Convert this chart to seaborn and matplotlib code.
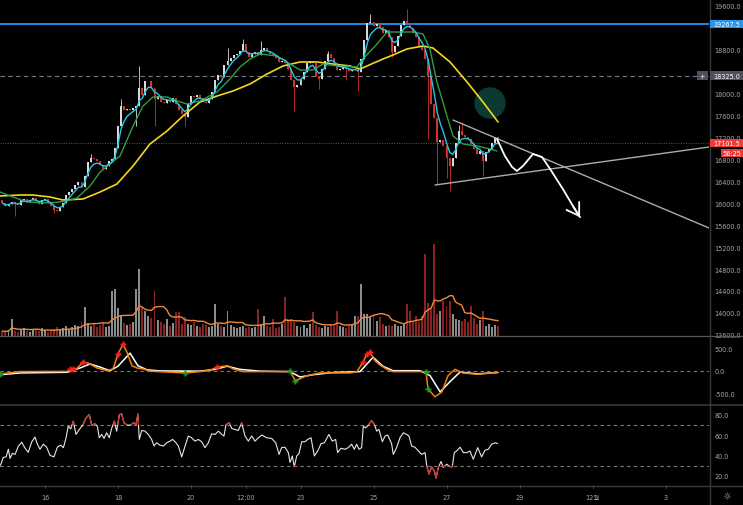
import numpy as np
import pandas as pd
import matplotlib
matplotlib.use("Agg")
import matplotlib.pyplot as plt
import seaborn as sns
from matplotlib.patches import Rectangle, Ellipse
from matplotlib.lines import Line2D
from matplotlib.collections import LineCollection

sns.set_theme(style="dark", rc={"axes.facecolor": "black", "figure.facecolor": "black"})
plt.rcParams["font.family"] = ["DejaVu Sans", "Noto Sans CJK KR"]

# ---------------- data (time in hours since Nov 14 00:00) ----------------
candle_start_hour = 20
candle_step = 2
first_open = 16050
close = [16000, 15950, 15980, 16030, 16000, 15960, 16050, 16080, 16020, 16060,
         16100, 16040, 15990, 16060, 16080, 16010, 15950, 15880, 15860, 15930,
         16010, 16150, 16200, 16260, 16330, 16380, 16300, 16500, 16750, 16830,
         16800, 16760, 16700, 16620, 16680, 16760, 16800, 17000, 17400, 17780,
         17700, 17720, 17700, 17740, 17780, 18100, 17980, 18220, 18230, 18100,
         17900, 17960, 17850, 17820, 17880, 17850, 17920, 17800, 17700, 17620,
         17580, 17800, 17950, 17930, 17980, 17920, 17850, 17830, 17900, 18030,
         18250, 18330, 18300, 18520, 18600, 18650, 18700, 18720, 18780, 18900,
         18750, 18660, 18720, 18760, 18700, 18800, 18820, 18780, 18720, 18700,
         18640, 18580, 18600, 18560, 18440, 18250, 18120, 18160, 18260, 18400,
         18560, 18600, 18560, 18320, 18260, 18440, 18600, 18720, 18650, 18560,
         18420, 18440, 18480, 18440, 18410, 18420, 18430, 18400, 18620, 18980,
         19280, 19300, 19230, 19270, 19220, 19110, 19150, 19030, 18760, 18860,
         19050, 19250, 19330, 19280, 19200, 19100, 19030, 18850, 18800, 18630,
         18300, 17800, 17560, 17120, 17150, 17050, 16820, 16680, 16820, 17100,
         17320, 17250, 17200, 17170, 17080, 16980, 16900, 16950, 16760, 16930,
         16990, 17100, 17200, 17101.5]
spike_high_idx = [29, 39, 45, 74, 79, 85, 107, 121, 133, 150, 151]
spike_high_val = [16900, 17900, 18500, 18830, 19000, 18950, 18780, 19450, 19540, 17420, 17480]
spike_low_idx = [4, 17, 44, 50, 60, 96, 104, 113, 117, 128, 140, 143, 146, 147, 158]
spike_low_val = [15760, 15820, 17400, 17400, 17400, 17680, 18080, 18250, 18050, 18660,
                 17170, 16350, 16450, 16230, 16500]
volume = [5, 4, 6, 17, 5, 4, 6, 8, 5, 4, 7, 6, 5, 8, 6, 4, 5, 7, 9, 6,
          8, 10, 7, 9, 11, 10, 14, 29, 13, 10,
          12, 9, 11, 13, 9, 10, 45, 47, 28, 20,
          13, 11, 12, 14, 47, 67, 29, 25, 20, 18,
          45, 16, 14, 12, 17, 10, 13, 24, 24, 12,
          19, 12, 11, 14, 10, 9, 12, 11, 9, 10,
          32, 12, 10, 9, 25, 11, 9, 8, 9, 10,
          8, 9, 8, 9, 27, 12, 20, 10, 9, 17,
          8, 9, 12, 39, 17, 17, 14, 10, 9, 11,
          8, 12, 24, 11, 9, 8, 10, 9, 11, 10,
          25, 10, 9, 8, 10, 12, 20, 20, 52, 22,
          22, 19, 22, 15, 19, 12, 10, 11, 10, 12,
          10, 10, 12, 32, 25, 15, 20, 14, 20, 82,
          33, 28, 92, 22, 25, 35, 30, 35, 22, 17,
          16, 15, 17, 14, 30, 18, 12, 16, 25, 10,
          12, 9, 11, 10]

yellow_hour = [18.4, 31.6, 40.1, 51.3, 59.8, 73, 84.2, 95.3, 105.9, 117, 128.2, 138.7, 149.9,
               161.1, 171.6, 182.8, 194, 204.5, 215.7, 226.8, 237.4, 248.5, 255.1, 259.7,
               270.2, 276.8, 286, 296.5, 303.1, 314.3, 325.5, 336, 345.9]
yellow_val = [16131, 16149, 16149, 16113, 16058, 16076, 16204, 16350, 16678, 17079, 17316,
              17589, 17844, 17954, 18045, 18173, 18355, 18501, 18574, 18574, 18537, 18501,
              18446, 18501, 18628, 18701, 18811, 18865, 18829, 18574, 18209, 17844, 17479]
green_hour = [18.4, 25, 36.2, 51.3, 62.5, 69, 77.6, 84.2, 90.7, 97.3, 105.9, 112.4, 119,
              128.2, 134.8, 141.4, 149.9, 161.1, 169.6, 176.2, 182.8, 189.4, 200.5, 209.1,
              215.7, 224.2, 230.8, 240, 253.1, 257.1, 266.3, 272.9, 281.4, 290, 296.5,
              301.1, 305.7, 312.3, 316.3, 322.8, 332.1, 340.6, 345.2]
green_val = [16204, 16131, 16022, 16003, 16040, 16095, 16313, 16568, 16714, 16860, 17407,
             17771, 17936, 17936, 17863, 17808, 17863, 18027, 18264, 18483, 18628, 18720,
             18683, 18537, 18428, 18428, 18537, 18501, 18483, 18628, 18902, 19120, 19120,
             19120, 19084, 18811, 18209, 17589, 17225, 17079, 17042, 16988, 16951]

macd_hour = [18.4, 31.6, 62.5, 65.8, 69, 73, 76.3, 82.2, 88.8, 92.7, 96, 99.3, 101.9, 105.2,
             108.5, 112.4, 117, 140, 149.9, 156.5, 161.1, 168.3, 171.6, 178.2, 207.1, 209.1,
             212.4, 214.3, 220.3, 228.8, 248.5, 253.1, 257.1, 259.7, 261.7, 265, 268.3,
             272.9, 276.8, 296.5, 298.5, 299.8, 304.4, 309, 313, 317.6, 322.8, 332.1, 345.9]
macd_val = [-73, -20, -15, 40, 50, 190, 170, 60, 0, 40, 370, 590, 410, 110, 60, 40, -10, -50,
            -20, 10, 80, 110, 40, -20, -20, 0, -220, -200, -110, -50, -50, -20, 190, 370,
            410, 220, 125, 30, -20, -20, -20, -400, -580, -470, -110, 30, -50, -80, -40]
signal_hour = [18.4, 31.6, 62.5, 71, 77.6, 84.2, 90.7, 96, 103.9, 109.1, 115.1, 123.6, 149.9,
               159.8, 167.7, 176.2, 189.4, 209.1, 215.7, 224.2, 237.4, 255.1, 258.4, 263.7,
               270.2, 276.8, 294.6, 301.2, 307.8, 314.4, 320.9, 332.1, 345.9]
signal_val = [-90, -50, -35, 60, 150, 80, 0, 100, 390, 110, 20, -5, -10, 30, 100, 30, -10,
              -20, -140, -90, -40, -20, 100, 300, 100, 0, 0, -110, -470, -240, -30, -70, -40]
cross_red_hour = [64.4, 66.4, 73, 96, 99.3, 161.1, 257.1, 259.7, 261.7]
cross_red_val = [40, 40, 190, 370, 590, 80, 190, 370, 410]
cross_green_hour = [18.4, 140, 209.1, 212.4, 298.5, 299.8]
cross_green_val = [-70, -50, 0, -220, -20, -400]

rsi_hour = [18.4, 20.6, 22.4, 23.9, 25, 26.5, 28.3, 30.5, 32.7, 34.9, 37, 39.2, 41.4, 43, 44.7,
            46.9, 49.1, 51.3, 53.9, 56.1, 58.3, 60.1, 61.8, 63.3, 64.9, 66.6, 68.4, 70.6, 72.8,
            75, 77.1, 78.7, 80.9, 82.4, 83.7, 85.3, 86.8, 88.5, 90.3, 91.8, 93.6, 95.1, 96.9,
            98.4, 99.9, 102.1, 104.3, 106.1, 107.8, 109.1, 110, 111.6, 113.8, 115.9, 118.1,
            119.7, 121.4, 123.6, 125.8, 128, 130.2, 131.9, 134.1, 135.7, 137.9, 140.1, 142.2,
            144.4, 146.6, 148.8, 151, 153.2, 155.4, 157.6, 159.8, 162, 164.2, 165.7, 167, 169.2,
            170.8, 172.9, 175.1, 177.3, 179.5, 181.7, 183.9, 186.1, 188.3,
            190.5, 193.8, 197, 199.7, 201.9, 203.6, 205.8, 208, 209.1, 210.6, 211.9, 213.5, 215,
            216.8, 218.9, 220.7, 222.9, 225.1, 227.3, 229.5, 231.7, 234.7, 236.9, 239.1, 240.4,
            242.6, 245.3, 247.4, 249.6, 251.4, 252.9, 254.5, 256.2, 257.3, 258.9, 260.6, 262.8,
            264.6, 266.1, 267.6, 269.8, 271.6, 273.3, 275.9, 277, 279.2, 281.4, 283.6, 285.8,
            287.3, 289.1, 291.3, 293.5, 295.6, 297.9, 299, 300.5, 302.2, 304, 305.1, 306.6,
            308.4, 309.9, 312.1, 314.3, 315.8, 317.1, 318.7, 320.9, 323.1, 325.3, 327.4, 329.6,
            332.5, 335.1, 337.3, 339.5, 341.7, 344.3, 345.6]
rsi_val = [29, 38, 38.5, 46, 37, 42, 41, 49, 53, 47, 43, 53, 58, 51, 46, 51, 48, 40, 38.5, 48,
           50, 47.6, 57, 68.7, 66, 73.6, 60.6, 65.5, 69.7, 76.8, 80, 69.7, 71, 68.7, 57.3, 60.6,
           56.7, 62.2, 57.3, 66.4, 73.6, 63.8, 80, 80.7, 72, 69.7, 69.7, 72, 70.3, 80.7, 55.7,
           64.5, 63.8, 60.6, 55.7, 49.2, 52.4, 50, 49.2, 52.4, 54, 55.7, 52.4, 49.2, 38.5, 49.2,
           59, 57.3, 54, 55.7, 53.4, 47.6, 52.4, 61.2, 60.6, 63.8, 60.6, 59, 70.3, 72, 66.4,
           65.5, 64.5, 72, 59, 54, 59, 54, 57.3,
           60, 57.3, 56.7, 52.4, 41, 47.6, 48, 42.7, 33, 39.4, 28.7, 39.4, 41.7, 53.4, 53.4,
           55.7, 57.3, 39.4, 44.3, 51.5, 52.4, 60.6, 54, 55.7, 42.7, 47, 46, 47.6, 51, 46, 51,
           46, 47.6, 68.7, 67, 69.7, 74.2, 70.3, 63.8, 65.5, 53.4, 59, 60, 51.5, 41, 47.6, 57.3,
           62.2, 60.6, 59, 49.2, 48, 44.3, 41, 42.7, 29.7, 21.6, 28.7, 24.8, 17.6, 28, 34, 28,
           31.3, 29, 28.7, 42.7, 44.3, 48, 42.7, 42.7, 44.3, 36.2, 47.6, 38.5, 45, 46, 51,
           52.4, 51.5]

# drawings on the chart (time hour, price)
level_blue = 19267.5
level_grey = 18325.0
last_price = 17101.5
tri_desc_hour = [316.3, 484.6]
tri_desc_val = [17516, 15548]
tri_asc_hour = [304.4, 484.6]
tri_asc_val = [16331, 17024]
path_hour = [345.2, 350.4, 355.1, 358.3, 362.3, 368.9, 374.8, 380.1, 388.6, 395.2, 399.8]
path_val = [17170, 16860, 16660, 16587, 16678, 16897, 16842, 16623, 16255, 15945, 15745]
circle_center = (340.6, 17826)
circle_size = (19.7, 547)

price_ticks = [13600, 14000, 14400, 14800, 15200, 15600, 16000, 16400, 16800, 17200,
               17600, 18000, 18400, 18800, 19200, 19600]
price_ticks_hidden = [18400, 19200]   # covered by the level labels
tick_hours = [48, 96, 144, 180, 216, 264, 312, 360, 408, 456]
tick_labels = ["16", "18", "20", "12:00", "23", "25", "27", "29", "12월", "3"]

# ---------------- figure ----------------
W, H = 743, 506
XR = 709
fig = plt.figure(figsize=(W / 100, H / 100), dpi=100, facecolor="black")
TXT = "#a3a6af"
FS = 4.7
XL = (18.41, 484.6)


def make_ax(top, bottom):
    ax = fig.add_axes([0, 1 - bottom / H, XR / W, (bottom - top) / H])
    ax.set_facecolor("black")
    for s in ax.spines.values():
        s.set_visible(False)
    ax.grid(False)
    ax.set_xlim(*XL)
    return ax


ax_p = make_ax(0, 337)
ax_m = make_ax(337, 406)
ax_r = make_ax(406, 486)

N = len(close)
cl = np.array(close, dtype=float)
hours = candle_start_hour + candle_step * np.arange(N)
op = np.r_[first_open, cl[:-1]]
hi = np.maximum(op, cl)
lo = np.minimum(op, cl)
for i, v in zip(spike_high_idx, spike_high_val):
    hi[i] = max(hi[i], v)
for i, v in zip(spike_low_idx, spike_low_val):
    lo[i] = min(lo[i], v)
up = cl >= op
UPC, DNC = "#d9d9d9", "#d3322f"
cols = np.where(up, UPC, DNC)

# volume (overlay)
ax_v = ax_p.twinx()
ax_v.set_ylim(0, 337)
ax_v.yaxis.set_visible(False)
for s in ax_v.spines.values():
    s.set_visible(False)
vcols = np.where(up, "#8c8c8c", "#8a2222")
ax_v.bar(hours, volume, width=1.3, color=vcols, linewidth=0, zorder=1)
vma = pd.Series(volume, dtype=float).rolling(10, min_periods=1).mean()
sns.lineplot(x=hours, y=vma.values, ax=ax_v, color="#f0883c", linewidth=1.0,
             estimator=None, sort=False, legend=False)
ax_v.set_xlim(*XL)
ax_v.grid(False)

# price panel
ax_p.set_ylim(13579, 19722)
ax_p.add_patch(Ellipse(circle_center, circle_size[0], circle_size[1], color="#0c3a33", zorder=1))
ax_p.axhline(level_blue, color="#2196f3", lw=1.3, zorder=2)
ax_p.axhline(level_grey, color="#787b86", lw=0.8, ls=(0, (4, 3)), zorder=2)
ax_p.axhline(last_price, color="#b8342f", lw=0.7, ls=(0, (1, 1.5)), zorder=2)
ax_p.vlines(hours, lo, hi, colors=cols, lw=0.6, zorder=3)
body = np.maximum(np.abs(cl - op), 10)
ax_p.bar(hours, body, bottom=np.minimum(op, cl), width=1.3, color=cols, linewidth=0, zorder=3)

cyan = pd.Series(cl).ewm(span=4).mean()
sns.lineplot(x=yellow_hour, y=yellow_val, ax=ax_p, color="#f2d81c", linewidth=1.2,
             estimator=None, sort=False, legend=False, zorder=4)
sns.lineplot(x=green_hour, y=green_val, ax=ax_p, color="#2f9e44", linewidth=1.0,
             estimator=None, sort=False, legend=False, zorder=4)
sns.lineplot(x=hours, y=cyan.values, ax=ax_p, color="#26c6e6", linewidth=1.0,
             estimator=None, sort=False, legend=False, zorder=5)
ax_p.plot(tri_desc_hour, tri_desc_val, color="#a9acb3", lw=1.0, zorder=6)
ax_p.plot(tri_asc_hour, tri_asc_val, color="#a9acb3", lw=1.0, zorder=6)
ax_p.plot(path_hour, path_val, color="white", lw=1.3, zorder=7, solid_capstyle="round")
ax_p.annotate("", xy=(path_hour[-1], path_val[-1]), xytext=(path_hour[-2], path_val[-2]),
              arrowprops=dict(arrowstyle="->,head_length=0.7,head_width=0.45", color="white",
                              lw=1.3, shrinkA=0, shrinkB=0), zorder=7)
ax_p.set_xlim(*XL)

ax_p.yaxis.tick_right()
ax_p.set_yticks(price_ticks)
ax_p.set_yticklabels(["" if v in price_ticks_hidden else f"{v:.1f}" for v in price_ticks])
ax_p.set_xticks([])
ax_p.tick_params(axis="y", right=True, left=False, length=0, pad=4, labelsize=FS, labelcolor=TXT)

# MACD panel
ax_m.set_ylim(-762, 771)
ax_m.axhline(0, color="#7c7c7c", lw=0.8, ls=(0, (3, 3)))
sns.lineplot(x=signal_hour, y=signal_val, ax=ax_m, color="white", linewidth=1.1,
             estimator=None, sort=False, legend=False)
sns.lineplot(x=macd_hour, y=macd_val, ax=ax_m, color="#f0820a", linewidth=1.1,
             estimator=None, sort=False, legend=False)
ax_m.plot(cross_red_hour, cross_red_val, ls="none", marker="P", ms=4.5, color="#ff1c1c",
          mec="none", clip_on=False)
ax_m.plot(cross_green_hour, cross_green_val, ls="none", marker="P", ms=4.5, color="#1e9a1e",
          mec="none", clip_on=False)
ax_m.set_xlim(*XL)
ax_m.yaxis.tick_right()
ax_m.set_yticks([500, 0, -500])
ax_m.set_yticklabels(["500.0", "0.0", "-500.0"])
ax_m.set_xticks([])
ax_m.tick_params(axis="y", right=True, left=False, length=0, pad=4, labelsize=FS, labelcolor=TXT)

# RSI panel
ax_r.set_ylim(10.9, 89.5)
for lvl in (70, 30):
    ax_r.axhline(lvl, color="#7c7c7c", lw=0.8, ls=(0, (3, 3)))
sns.lineplot(x=rsi_hour, y=rsi_val, ax=ax_r, color="#e6e6e6", linewidth=0.8,
             estimator=None, sort=False, legend=False)


def beyond_segments(xs, ys, thr, above):
    segs = []
    for k in range(len(xs) - 1):
        x0, y0, x1, y1 = xs[k], ys[k], xs[k + 1], ys[k + 1]
        o0 = y0 > thr if above else y0 < thr
        o1 = y1 > thr if above else y1 < thr
        if not (o0 or o1):
            continue
        if o0 and o1:
            segs.append([(x0, y0), (x1, y1)])
        else:
            t = (thr - y0) / (y1 - y0)
            xc = x0 + t * (x1 - x0)
            segs.append([(x0, y0), (xc, thr)] if o0 else [(xc, thr), (x1, y1)])
    return segs


red_segs = beyond_segments(rsi_hour, rsi_val, 70, True) + beyond_segments(rsi_hour, rsi_val, 30, False)
ax_r.add_collection(LineCollection(red_segs, colors="#d0302a", linewidths=0.9, zorder=5))
ax_r.set_xlim(*XL)
ax_r.yaxis.tick_right()
ax_r.set_yticks([80, 60, 40, 20])
ax_r.set_yticklabels(["80.0", "60.0", "40.0", "20.0"])
ax_r.tick_params(axis="y", right=True, left=False, length=0, pad=4, labelsize=FS, labelcolor=TXT)
ax_r.set_xticks(tick_hours)
ax_r.set_xticklabels(tick_labels)
ax_r.tick_params(axis="x", bottom=True, length=2.2, width=0.6, color="#666666", pad=4.5,
                 labelsize=FS, labelcolor=TXT)
for lab in ax_r.get_xticklabels():
    lab.set_fontfamily(["DejaVu Sans", "Noto Sans CJK KR"])

# ---------------- frame lines ----------------
def fline(x0, y0, x1, y1, c="#4a4a4a", lw=0.9):
    fig.add_artist(Line2D([x0 / W, x1 / W], [1 - y0 / H, 1 - y1 / H],
                          transform=fig.transFigure, color=c, lw=lw, zorder=3))


fline(0, 337, W, 337, c="#5a5a5a")
fline(0, 406, W, 406, c="#3a3a3a", lw=1.2)
fline(0, 486.5, W, 486.5, c="#3a3a3a", lw=1.0)
fline(XR + 0.5, 0, XR + 0.5, H, c="#3a3a3a", lw=1.0)


# ---------------- price label boxes ----------------
def price_px(p):
    return H - ax_p.transData.transform((XL[0], p))[1]


def box(x0, x1, yc, hgt, fc, txt, tc="white"):
    fig.add_artist(Rectangle((x0 / W, 1 - (yc + hgt / 2) / H), (x1 - x0) / W, hgt / H,
                             transform=fig.transFigure, fc=fc, ec="none", zorder=8))
    fig.text((x0 + x1) / 2 / W, 1 - yc / H, txt, ha="center", va="center", color=tc,
             fontsize=FS, zorder=9)


box(710, 743, price_px(level_blue), 8, "#2196f3", f"{level_blue:.1f}")
box(710, 743, price_px(level_grey), 9, "#4e515b", f"{level_grey:.1f}")
box(697, 708, price_px(level_grey), 9, "#4e515b", "+")
box(710, 743, price_px(last_price), 8.5, "#ef3a3a", f"{last_price:.1f}")
box(721, 743, price_px(last_price) + 10.5, 8, "#ef3a3a", "56:25")

fig.text(727 / W, 1 - 497 / H, "☼", ha="center", va="center", color=TXT, fontsize=7)

fig.savefig("out.png", dpi=100, facecolor="black")
